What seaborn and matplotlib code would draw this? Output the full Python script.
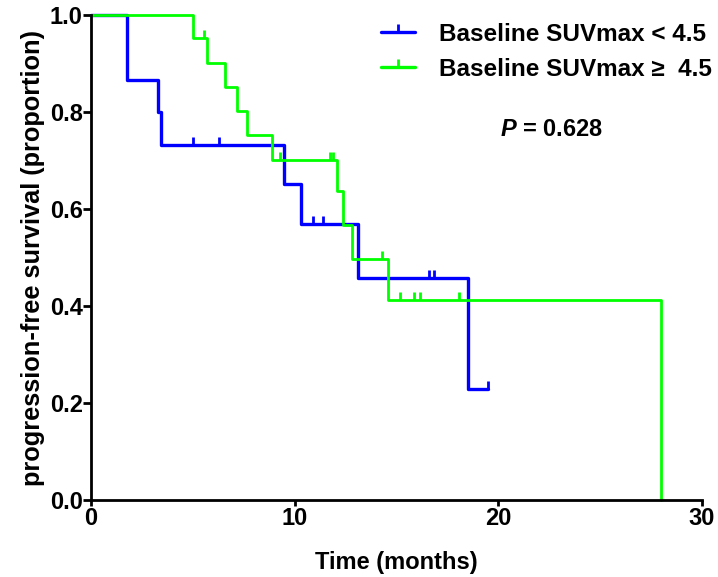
import numpy as np
import pandas as pd
import matplotlib
matplotlib.use('Agg')
import matplotlib.pyplot as plt
from matplotlib.lines import Line2D
import seaborn as sns

# %%
# Kaplan-Meier steps
low_time = [0, 1.78, 3.28, 3.44, 9.48, 10.3, 13.1, 18.5, 19.5]
low_surv = [1.0, 0.867, 0.800, 0.733, 0.652, 0.570, 0.457, 0.228, 0.228]
low_cens_time = [5.0, 6.29, 10.89, 11.42, 16.6, 16.87, 19.5]
low_cens_surv = [0.733, 0.733, 0.570, 0.570, 0.457, 0.457, 0.228]

high_time = [0, 5.0, 5.68, 6.58, 7.16, 7.65, 8.88, 12.07, 12.4, 12.81, 14.6, 28.0]
high_surv = [1.0, 0.952, 0.902, 0.852, 0.802, 0.752, 0.702, 0.638, 0.567, 0.496, 0.413, 0.0]
high_cens_time = [5.57, 9.28, 11.74, 11.91, 14.28, 15.18, 15.89, 16.17, 18.1]
high_cens_surv = [0.952, 0.702, 0.702, 0.702, 0.496, 0.413, 0.413, 0.413, 0.413]

labels = ['Baseline SUVmax < 4.5', 'Baseline SUVmax \u2265  4.5']
colors = ['#0000ff', '#00ff00']
p_text = '$\\bfit{P}$ = 0.628'

# %%
sns.set_style('ticks')
plt.rcParams['font.family'] = ['Liberation Sans', 'DejaVu Sans']
plt.rcParams['font.weight'] = 'bold'
plt.rcParams['mathtext.fontset'] = 'custom'
plt.rcParams['mathtext.bfit'] = 'Liberation Sans:italic:bold'
plt.rcParams['mathtext.rm'] = 'Liberation Sans:bold'
plt.rcParams['axes.linewidth'] = 2
plt.rcParams['axes.edgecolor'] = 'black'
plt.rcParams['text.color'] = 'black'
plt.rcParams['axes.labelcolor'] = 'black'
plt.rcParams['xtick.color'] = 'black'
plt.rcParams['ytick.color'] = 'black'

df_low = pd.DataFrame({'time': low_time, 'surv': low_surv})
df_high = pd.DataFrame({'time': high_time, 'surv': high_surv})

fig = plt.figure(figsize=(7.18, 5.77), dpi=100)
ax = fig.add_axes([0.1267, 0.1334, 0.8506, 0.8406])

sns.lineplot(data=df_low, x='time', y='surv', color=colors[0], lw=2.4,
             drawstyle='steps-post', estimator=None, sort=False, ax=ax, clip_on=False)
ax.plot(low_cens_time, low_cens_surv, ls='', marker=2, ms=6, mew=2,
        color=colors[0], clip_on=False)
sns.lineplot(data=df_high, x='time', y='surv', color=colors[1], lw=2,
             drawstyle='steps-post', estimator=None, sort=False, ax=ax, clip_on=False)
ax.plot(high_cens_time, high_cens_surv, ls='', marker=2, ms=6, mew=2,
        color=colors[1], clip_on=False)

ax.set_xlim(0, 30)
ax.set_ylim(0, 1.0)
ax.set_xticks([0, 10, 20, 30])
ax.set_yticks([0.0, 0.2, 0.4, 0.6, 0.8, 1.0])
ax.set_yticklabels(['0.0', '0.2', '0.4', '0.6', '0.8', '1.0'])
ax.tick_params(axis='y', direction='out', length=6, width=2, pad=0, labelsize=17)
ax.tick_params(axis='x', direction='out', length=4, width=2, pad=1, labelsize=17)
for lab in ax.get_xticklabels() + ax.get_yticklabels():
    lab.set_fontweight('bold')
sns.despine(ax=ax)

ax.set_xlabel('Time (months)', fontsize=17, fontweight='bold', labelpad=15)
ax.set_ylabel('progression-free survival (proportion)', fontsize=18.3,
              fontweight='bold', labelpad=3)

handles = [Line2D([], [], color=c, lw=2.4, marker=2, ms=6, mew=2) for c in colors]
ax.legend(handles, labels, loc='upper left', bbox_to_anchor=(0.475, 0.984),
          frameon=False, handlelength=1.4, handletextpad=1.0,
          labelspacing=0.5, borderpad=0, borderaxespad=0, numpoints=1,
          prop={'weight': 'bold', 'size': 17.5})

ax.text(22.6, 0.763, p_text, fontsize=17, ha='center', va='center')

fig.savefig('out.png', dpi=100)
